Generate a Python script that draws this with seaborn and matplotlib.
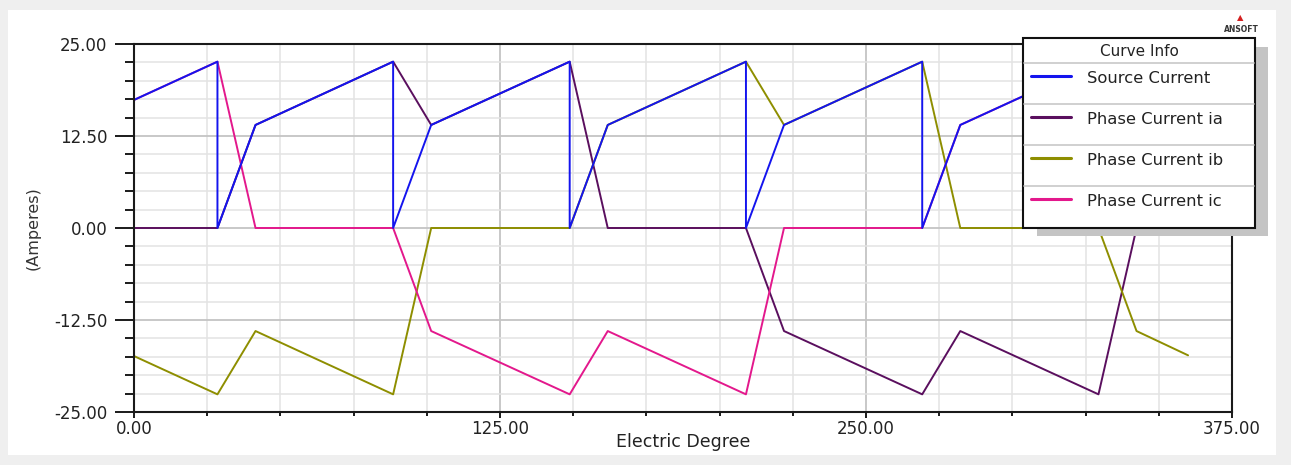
import matplotlib
matplotlib.use("Agg")
import matplotlib.pyplot as plt
from matplotlib.patches import Rectangle
from matplotlib.lines import Line2D
from matplotlib.ticker import MultipleLocator, FixedLocator, FormatStrFormatter
import seaborn as sns

# Source current waveform breakpoints (electric degree, amperes)
source_deg = [0, 28.5, 28.5, 41.5, 88.5, 88.5, 101.5, 148.8, 148.8, 161.8,
              209.0, 209.0, 222.0, 269.2, 269.2, 282.2, 329.4, 329.4, 342.4, 360]
source_amp = [17.4, 22.6, 0, 14.0, 22.6, 0, 14.0, 22.6, 0, 14.0,
              22.6, 0, 14.0, 22.6, 0, 14.0, 22.6, 0, 14.0, 17.3]

# Phase current breakpoints share one degree axis
phase_deg = [0, 28.5, 41.5, 88.5, 101.5, 148.8, 161.8, 209.0, 222.0,
             269.2, 282.2, 329.4, 342.4, 360]
ia_amp = [0, 0, 14.0, 22.6, 14.0, 22.6, 0, 0, -14.0, -22.6, -14.0, -22.6, 0, 0]
ib_amp = [-17.4, -22.6, -14.0, -22.6, 0, 0, 14.0, 22.6, 14.0, 22.6, 0, 0, -14.0, -17.3]
ic_amp = [17.4, 22.6, 0, 0, -14.0, -22.6, -14.0, -22.6, 0, 0, 14.0, 22.6, 14.0, 17.3]

series_names = ["Source Current", "Phase Current ia", "Phase Current ib", "Phase Current ic"]
series_colors = ["#1414ee", "#5a0f5e", "#8e8e00", "#e3188c"]

x_major = [0, 125, 250, 375]

sns.set_theme(style="white")
plt.rcParams["font.family"] = ["DejaVu Sans"]

W, H = 1291, 465
fig = plt.figure(figsize=(W / 100, H / 100), dpi=100, facecolor="#efefef")


def fx(px):
    return px / W


def fy(py):
    return 1 - py / H


# white plotting panel
fig.add_artist(Rectangle((fx(8), fy(455)), fx(1276) - fx(8), fy(10) - fy(455),
                         transform=fig.transFigure, facecolor="white",
                         edgecolor="none", zorder=-5))

ax = fig.add_axes([fx(134), fy(412), fx(1232) - fx(134), fy(44) - fy(412)])
ax.set_facecolor("white")

lw = 1.4
for amp, col in zip([ia_amp, ib_amp, ic_amp], series_colors[1:]):
    sns.lineplot(x=phase_deg, y=amp, estimator=None, sort=False, color=col,
                 linewidth=lw, ax=ax, legend=False)
sns.lineplot(x=source_deg, y=source_amp, estimator=None, sort=False,
             color=series_colors[0], linewidth=lw, ax=ax, legend=False)

ax.set_xlim(0, 375)
ax.set_ylim(-25, 25)
ax.xaxis.set_major_locator(FixedLocator(x_major))
ax.xaxis.set_minor_locator(MultipleLocator(25))
ax.yaxis.set_major_locator(MultipleLocator(12.5))
ax.yaxis.set_minor_locator(MultipleLocator(2.5))
ax.xaxis.set_major_formatter(FormatStrFormatter("%.2f"))
ax.yaxis.set_major_formatter(FormatStrFormatter("%.2f"))

ax.set_axisbelow(True)
ax.grid(which="minor", color="#e3e3e3", linewidth=1.1)
ax.grid(which="major", color="#c4c4c4", linewidth=1.3)

for s in ax.spines.values():
    s.set_visible(True)
    s.set_color("#1a1a1a")
    s.set_linewidth(1.5)

txt = "#222222"
ax.tick_params(axis="y", which="major", direction="out", length=14, width=1.4,
               color="#1a1a1a", pad=5, labelsize=12, labelcolor=txt, left=True)
ax.tick_params(axis="y", which="minor", direction="out", length=6.5, width=1.4,
               color="#1a1a1a", left=True)
ax.tick_params(axis="x", which="major", direction="out", length=4.5, width=1.4,
               color="#1a1a1a", pad=1.5, labelsize=12, labelcolor=txt, bottom=True)
ax.tick_params(axis="x", which="minor", direction="out", length=3, width=1.4,
               color="#1a1a1a", bottom=True)

ax.set_xlabel("Electric Degree", fontsize=12.5, color=txt, labelpad=-4)
ax.set_ylabel("(Amperes)", fontsize=11.5, color="#333333", labelpad=10)

# Curve Info box with drop shadow
fig.add_artist(Rectangle((fx(1037), fy(236)), fx(1268) - fx(1037), fy(47) - fy(236),
                         transform=fig.transFigure, facecolor="#c4c4c4",
                         edgecolor="none", zorder=10))
fig.add_artist(Rectangle((fx(1023), fy(228)), fx(1255) - fx(1023), fy(38) - fy(228),
                         transform=fig.transFigure, facecolor="white",
                         edgecolor="#111111", linewidth=1.5, zorder=11))
fig.text(fx(1139), fy(56.5), "Curve Info", ha="center", va="baseline",
         fontsize=11, color=txt, zorder=12)
for sep_y in [63, 104, 145, 186]:
    fig.add_artist(Line2D([fx(1024), fx(1254)], [fy(sep_y), fy(sep_y)],
                          transform=fig.transFigure, color="#c8c8c8",
                          linewidth=1.2, zorder=12))
row_line_y = [76, 117, 158, 199]
row_text_y = [82.7, 124.3, 165, 205.7]
for name, col, ly, ty in zip(series_names, series_colors, row_line_y, row_text_y):
    fig.add_artist(Line2D([fx(1031), fx(1071)], [fy(ly), fy(ly)],
                          transform=fig.transFigure, color=col,
                          linewidth=2.2, zorder=12))
    fig.text(fx(1087), fy(ty), name, ha="left", va="baseline",
             fontsize=11.8, color=txt, zorder=12)

# corner logo
fig.text(fx(1240), fy(18), "\u25B2", ha="center", va="center", fontsize=6,
         color="#d42020")
fig.text(fx(1241), fy(30), "ANSOFT", ha="center", va="center", fontsize=5.5,
         fontweight="bold", color="#333333")

fig.savefig("out.png", dpi=100, facecolor=fig.get_facecolor())
